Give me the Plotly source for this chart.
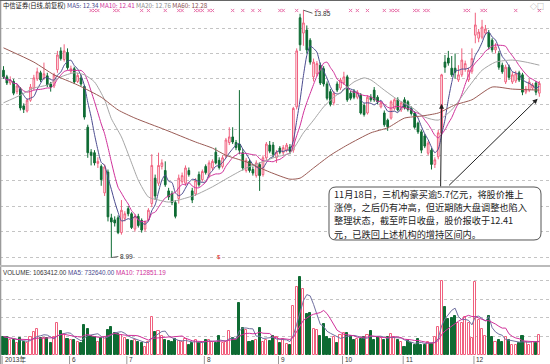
import numpy as np
import pandas as pd
import plotly.graph_objects as go

W, H = 550, 364

# ---------------- data ----------------
holidays = ['2013-06-10', '2013-06-11', '2013-06-12', '2013-09-19', '2013-09-20',
            '2013-10-01', '2013-10-02', '2013-10-03', '2013-10-04', '2013-10-07']
days = pd.bdate_range('2013-05-06', '2013-12-27')
days = days[~days.isin(pd.to_datetime(holidays))]

opens = [12.67, 12.54, 12.42, 12.45, 12.25, 12.30, 11.97, 11.87, 12.08, 12.32,
         12.50, 12.62, 12.52, 12.56, 12.40, 12.36, 12.68, 13.05, 12.88, 13.02,
         12.65, 12.70, 12.45, 12.52, 12.35, 11.55, 11.06, 11.05, 10.84, 10.78,
         10.26, 10.67, 9.77, 9.73, 9.77, 9.48, 9.76,
         9.95, 9.85, 9.55, 9.80, 9.72, 9.55, 9.73, 10.05, 10.55, 10.45,
         10.78, 10.70, 10.30, 10.25, 10.07, 10.15, 10.48, 10.45, 10.70, 10.30,
         10.24, 10.62, 10.52,
         10.78, 10.60, 10.75, 11.06, 10.90, 10.78, 10.98, 11.25, 11.36, 11.25,
         11.22, 11.05, 10.70, 10.88, 10.72, 10.60, 10.82, 10.62, 10.95, 11.20,
         11.20, 10.95,
         11.14, 11.05, 11.10, 11.16, 11.10, 11.95, 13.70, 13.40, 13.46, 13.26,
         12.54, 12.60, 12.77, 12.70, 12.40, 12.25, 12.03, 12.40, 12.32,
         12.42, 12.54, 12.22, 12.25, 12.14, 12.18, 11.98, 11.83, 12.14, 12.28,
         12.14, 11.95, 11.83, 11.69, 11.73, 11.92, 12.09, 11.89,
         12.09, 12.05, 11.92, 11.83, 11.63, 11.46, 11.38, 11.04, 11.10, 10.82,
         10.97, 11.44, 12.83, 12.91, 12.71, 12.71, 12.48, 12.58, 12.70, 12.48,
         12.65,
         13.36, 13.30, 13.32, 13.40, 13.40, 13.26, 13.07, 13.00, 12.77, 12.44,
         12.73, 12.44, 12.46, 12.62, 12.58, 12.24, 12.28, 12.32, 12.42, 12.22]

highs = [12.75, 12.58, 12.55, 12.50, 12.40, 12.34, 12.02, 12.12, 12.40, 12.58,
         12.72, 12.66, 12.82, 12.62, 12.44, 12.62, 13.05, 13.12, 13.18, 13.10,
         12.76, 12.74, 12.62, 12.58, 12.38, 11.60, 11.12, 11.10, 10.96, 10.82,
         10.82, 10.72, 9.85, 9.80, 9.82, 10.12, 9.90,
         10.00, 9.88, 9.84, 9.85, 9.76, 9.72, 9.96, 11.02, 10.62, 11.05,
         10.92, 10.88, 10.36, 10.30, 10.12, 10.62, 10.66, 10.80, 10.76, 10.36,
         10.55, 10.68, 10.72,
         10.82, 10.90, 10.92, 11.15, 10.96, 11.00, 11.34, 11.55, 11.55, 11.30,
         12.28, 11.12, 10.95, 10.92, 10.78, 10.90, 10.86, 11.00, 11.26, 11.28,
         11.26, 11.10,
         11.18, 11.20, 11.24, 11.22, 11.95, 13.10, 13.78, 13.85, 13.55, 13.30,
         12.90, 12.85, 12.82, 12.75, 12.45, 12.30, 12.26, 12.45, 12.52,
         12.64, 12.58, 12.26, 12.30, 12.28, 12.22, 12.02, 12.18, 12.20, 12.34,
         12.18, 12.06, 11.88, 11.72, 12.08, 12.12, 12.14, 12.06,
         12.14, 12.08, 11.96, 11.86, 11.66, 11.50, 11.42, 11.28, 11.14, 10.96,
         11.50, 12.60, 12.97, 13.05, 12.95, 13.00, 12.77, 13.10, 12.86, 12.72,
         13.10,
         13.80, 13.48, 13.66, 13.56, 13.46, 13.30, 13.20, 13.05, 12.82, 12.78,
         12.78, 12.64, 12.66, 12.66, 12.62, 12.36, 12.50, 12.42, 12.46, 12.46]

lows = [12.50, 12.38, 12.38, 12.18, 12.20, 11.88, 11.83, 11.84, 12.05, 12.28,
        12.46, 12.44, 12.48, 12.34, 12.25, 12.32, 12.62, 12.86, 12.84, 12.68,
        12.60, 12.40, 12.42, 12.36, 11.70, 10.95, 10.80, 10.80, 10.75, 10.40,
        10.20, 9.70, 8.99, 9.60, 9.45, 9.44, 9.70,
        9.80, 9.55, 9.50, 9.58, 9.48, 9.50, 9.70, 9.98, 10.12, 10.40,
        10.72, 10.38, 10.12, 10.02, 9.76, 10.05, 10.44, 10.40, 10.58, 10.06,
        10.20, 10.38, 10.48,
        10.62, 10.56, 10.70, 10.82, 10.72, 10.74, 10.94, 11.20, 11.22, 11.10,
        11.02, 10.70, 10.66, 10.66, 10.60, 10.56, 10.30, 10.58, 10.90, 11.04,
        10.96, 10.85,
        11.02, 11.00, 11.06, 11.02, 11.05, 11.90, 13.05, 13.15, 13.00, 12.78,
        12.45, 12.55, 12.38, 12.35, 12.08, 11.96, 11.98, 12.24, 12.28,
        12.38, 12.05, 12.08, 12.10, 12.10, 11.80, 11.76, 11.80, 12.05, 12.05,
        12.00, 11.92, 11.56, 11.48, 11.70, 11.88, 11.86, 11.85,
        11.90, 11.86, 11.78, 11.52, 11.42, 11.04, 11.14, 11.00, 10.72, 10.75,
        10.92, 11.40, 12.62, 12.76, 12.54, 12.50, 12.44, 12.54, 12.64, 12.44,
        12.60,
        13.20, 13.22, 13.28, 13.36, 13.08, 13.02, 13.00, 12.68, 12.60, 12.40,
        12.48, 12.40, 12.42, 12.44, 12.18, 12.20, 12.24, 12.28, 12.18, 12.15]

closes = [12.54, 12.42, 12.48, 12.22, 12.36, 11.93, 11.90, 12.08, 12.34, 12.52,
          12.64, 12.48, 12.60, 12.38, 12.34, 12.58, 12.97, 12.90, 13.05, 12.72,
          12.70, 12.44, 12.57, 12.40, 11.75, 11.05, 11.00, 10.85, 10.88, 10.52,
          10.77, 9.79, 9.69, 9.67, 9.48, 9.92, 9.85,
          9.85, 9.58, 9.80, 9.62, 9.53, 9.68, 9.92, 10.80, 10.20, 10.80,
          10.85, 10.42, 10.18, 10.07, 9.80, 10.55, 10.60, 10.75, 10.62, 10.12,
          10.50, 10.42, 10.68,
          10.66, 10.85, 10.88, 10.85, 10.76, 10.95, 11.30, 11.36, 11.26, 11.15,
          11.10, 10.75, 10.90, 10.70, 10.65, 10.85, 10.60, 10.95, 11.22, 11.08,
          11.02, 11.06,
          11.06, 11.15, 11.20, 11.08, 11.92, 13.05, 13.17, 13.60, 13.07, 12.83,
          12.83, 12.80, 12.42, 12.40, 12.12, 12.00, 12.22, 12.28, 12.48,
          12.54, 12.09, 12.12, 12.14, 12.24, 11.83, 11.80, 12.14, 12.09, 12.09,
          12.05, 12.03, 11.60, 11.56, 12.05, 12.09, 11.89, 12.03,
          11.93, 11.90, 11.82, 11.55, 11.46, 11.10, 11.18, 11.24, 10.82, 10.91,
          11.44, 12.58, 12.73, 12.81, 12.58, 12.63, 12.58, 12.87, 12.80, 12.67,
          12.90,
          13.56, 13.42, 13.52, 13.48, 13.13, 13.07, 13.13, 12.73, 12.64, 12.73,
          12.53, 12.58, 12.60, 12.48, 12.24, 12.30, 12.44, 12.38, 12.24, 12.41]

volume_m = [0.99, 0.95, 0.80, 0.80, 0.63, 0.90, 0.72, 0.63, 0.99, 1.25,
            1.38, 0.92, 0.90, 0.90, 0.65, 0.95, 1.74, 1.31, 1.13, 0.85,
            0.81, 0.81, 0.72, 0.63, 1.61, 1.42, 1.02, 0.95, 0.72, 0.90,
            0.95, 1.34, 1.52, 1.20, 1.13, 1.08, 0.90,
            0.81, 0.76, 0.81, 0.72, 0.63, 0.45, 0.72, 2.03, 1.25, 1.31,
            1.02, 0.81, 0.76, 0.72, 0.85, 0.76, 0.72, 0.85, 0.54, 0.63,
            0.81, 0.63, 0.72,
            0.81, 0.81, 0.72, 0.67, 1.02, 0.63, 0.72, 1.31, 0.90, 0.81,
            2.78, 1.43, 1.34, 0.72, 0.76, 0.81, 1.43, 0.72, 0.81, 0.76,
            1.02, 0.99,
            0.63, 0.84, 0.59, 0.55, 2.63, 3.67, 4.21, 3.53, 2.20, 2.28,
            1.40, 1.34, 1.02, 1.67, 0.95, 0.86, 0.95, 0.63, 1.08,
            1.20, 1.17, 1.02, 0.81, 0.85, 0.86, 0.95, 1.08, 1.31, 0.81,
            0.95, 0.90, 0.81, 0.95, 1.13, 0.95, 0.81, 0.72,
            0.45, 0.81, 0.63, 0.54, 0.84, 0.54, 0.54, 0.72, 0.59, 0.99,
            1.52, 4.00, 2.60, 1.92, 1.97, 2.10, 1.74, 1.74, 2.03, 1.70,
            0.90,
            3.94, 1.88, 1.40, 1.02, 2.10, 0.95, 0.72, 0.81, 0.72, 0.95,
            0.81, 0.54, 0.54, 0.63, 1.02, 0.72, 0.52, 0.70, 0.66, 1.063412]

# MA20 / MA60 (trading-day index, value)
ma20_idx = [0, 5, 9, 13, 17, 21, 24, 27, 30, 32, 35, 38, 40, 43, 46, 49, 52, 57, 62, 67,
            72, 76, 81, 85, 89, 92, 95, 98, 101, 104, 107, 109, 113, 117, 121, 125, 129,
            133, 138, 142, 146, 151, 155, 159]
ma20_val = [12.03, 12.18, 12.32, 12.38, 12.54, 12.62, 12.58, 12.44, 12.09, 11.72, 11.36,
            10.85, 10.51, 10.18, 10.12, 10.08, 10.12, 10.22, 10.38, 10.57, 10.75, 10.85,
            10.97, 11.04, 11.44, 11.69, 11.95, 12.14, 12.28, 12.44, 12.52, 12.48, 12.28,
            12.09, 11.95, 11.75, 11.69, 11.89, 12.34, 12.67, 12.83, 12.87, 12.83, 12.77]
ma60_idx = [0, 9, 15, 22, 29, 34, 39, 48, 57, 62, 66, 72, 79, 85, 88, 92, 97, 102, 109,
            114, 119, 124, 129, 134, 139, 145, 151, 159]
ma60_val = [13.11, 12.83, 12.58, 12.38, 12.14, 11.89, 11.73, 11.50, 11.26, 11.14, 11.00,
            10.87, 10.67, 10.53, 10.55, 10.75, 11.00, 11.20, 11.44, 11.54, 11.73, 11.77,
            11.83, 11.99, 12.09, 12.34, 12.30, 12.28]

signal_dates = ['2013-06-14', '2013-06-17', '2013-06-18', '2013-06-25', '2013-06-26',
                '2013-07-05', '2013-07-09', '2013-07-16', '2013-07-22', '2013-07-23',
                '2013-07-29', '2013-07-30', '2013-07-31', '2013-08-02', '2013-08-05',
                '2013-08-13', '2013-08-16', '2013-08-21', '2013-08-23', '2013-09-02',
                '2013-09-03', '2013-09-09', '2013-09-17', '2013-09-24', '2013-10-10',
                '2013-10-14', '2013-10-17', '2013-10-24', '2013-10-28', '2013-10-29',
                '2013-10-30', '2013-11-06', '2013-11-07', '2013-11-11', '2013-11-12',
                '2013-11-27', '2013-11-28', '2013-12-04', '2013-12-05', '2013-12-18',
                '2013-12-27']
exdiv_date = '2013-08-07'
event_date = '2013-11-18'

month_labels = ['2013年', '6', '7', '8', '9', '10', '11', '12']
title_parts = [('中信证券(日线,前复权)', '#111111'), ('MA5: 12.34', '#4B4B8F'),
               ('MA10: 12.41', '#D0309A'), ('MA20: 12.76', '#8C8C8C'), ('MA60: 12.28', '#8A5050')]
vol_parts = [('VOLUME: 1063412.00', '#333333'), ('MA5: 732640.00', '#4B4B8F'),
             ('MA10: 712851.19', '#D0309A')]
note_lines = ['11月18日，三机构豪买逾5.7亿元，将股价推上',
              '涨停，之后仍有冲高，但近期随大盘调整也陷入',
              '整理状态，截至昨日收盘，股价报收于12.41',
              '元，已跌回上述机构的增持区间内。']

# ---------------- derived ----------------
x = np.arange(len(days))
o = np.array(opens); h = np.array(highs); l = np.array(lows); c = np.array(closes)
v = np.array(volume_m)
cs = pd.Series(c)
ma5 = cs.rolling(5, min_periods=1).mean()
ma10 = cs.rolling(10, min_periods=1).mean()
vs = pd.Series(v)
vma5 = vs.rolling(5, min_periods=1).mean()
vma10 = vs.rolling(10, min_periods=1).mean()
up = c >= o
month = np.array(days.month)
month_starts = [0] + [i for i in range(1, len(month)) if month[i] != month[i - 1]]
pos = {d: i for i, d in enumerate(days.strftime('%Y-%m-%d'))}
signal_idx = [pos[d] for d in signal_dates]

UP = '#F0607E'
DN = '#0E6B33'
C_MA5 = '#4B4B8F'
C_MA10 = '#D0309A'
C_MA20 = '#A6A6A6'
C_MA60 = '#9A5B55'


def py(yp):
    return 1 - yp / H


def pxx(xp):
    return xp / W


X0 = -3.5 / 3.37
XR = [X0, (W - 3.5) / 3.37]
main_top_px, main_bot_px = 2, 264


def price_at(ypx):
    return 13.5 - (ypx - 28) / 50.9


vol_top_px, vol_bot_px = 266, 355

fig = go.Figure()

fig.add_trace(go.Candlestick(
    x=x, open=o, high=h, low=l, close=c,
    increasing=dict(line=dict(color=UP, width=1), fillcolor='white'),
    decreasing=dict(line=dict(color=DN, width=1), fillcolor=DN),
    whiskerwidth=0, hoverinfo='skip', xaxis='x', yaxis='y'))

for xs, ys, col in [(x, ma5, C_MA5), (x, ma10, C_MA10), (ma20_idx, ma20_val, C_MA20),
                    (ma60_idx, ma60_val, C_MA60)]:
    fig.add_trace(go.Scatter(x=xs, y=ys, mode='lines', line=dict(color=col, width=1, shape='spline',
                             smoothing=0.6), hoverinfo='skip', xaxis='x', yaxis='y'))

sig_y = price_at(10.5)
fig.add_trace(go.Scatter(x=signal_idx, y=[sig_y] * len(signal_idx), mode='markers',
                         marker=dict(symbol='x-thin', size=3.2, line=dict(color='#E872AA', width=1)),
                         hoverinfo='skip', xaxis='x', yaxis='y'))

fig.add_trace(go.Bar(x=x, y=v, width=0.62,
                     marker=dict(color=np.where(up, 'white', DN),
                                 line=dict(color=np.where(up, UP, DN), width=1)),
                     hoverinfo='skip', xaxis='x2', yaxis='y2'))
fig.add_trace(go.Scatter(x=x, y=vma5, mode='lines', line=dict(color='#7070A0', width=1),
                         hoverinfo='skip', xaxis='x2', yaxis='y2'))
fig.add_trace(go.Scatter(x=x, y=vma10, mode='lines', line=dict(color=C_MA10, width=1),
                         hoverinfo='skip', xaxis='x2', yaxis='y2'))

grid_main = [9.0 + 0.5 * k for k in range(10)]

fig.update_layout(
    width=W, height=H, margin=dict(l=0, r=0, t=0, b=0),
    paper_bgcolor='white', plot_bgcolor='white', showlegend=False, bargap=0,
    font=dict(family='Noto Sans CJK SC, Liberation Sans, sans-serif'),
    xaxis=dict(domain=[0, 1], range=XR, showticklabels=False, showgrid=False, zeroline=False,
               anchor='y', rangeslider=dict(visible=False), fixedrange=True),
    yaxis=dict(domain=[py(main_bot_px), py(main_top_px)],
               range=[price_at(main_bot_px), price_at(main_top_px)],
               tickvals=grid_main, showticklabels=False, showgrid=True, gridcolor='#C4C4C4',
               griddash='dot', gridwidth=1, zeroline=False),
    xaxis2=dict(domain=[0, 1], range=XR, anchor='y2', showticklabels=False,
                showgrid=False, zeroline=False, showline=False),
    yaxis2=dict(domain=[py(vol_bot_px), py(vol_top_px)],
                range=[0, (vol_bot_px - vol_top_px) / 18.6],
                tickvals=[1, 2, 3, 4], showticklabels=False, showgrid=True, gridcolor='#C4C4C4',
                griddash='dot', zeroline=False),
)

shapes = []
shapes.append(dict(type='line', xref='paper', yref='paper', x0=0.001, x1=0.001, y0=0, y1=1,
                   line=dict(color='#9A9A9A', width=1.5)))
shapes.append(dict(type='line', xref='paper', yref='paper', x0=0, x1=1, y0=0.999, y1=0.999,
                   line=dict(color='#666666', width=1.5)))
shapes.append(dict(type='line', xref='paper', yref='paper', x0=0, x1=1, y0=py(266), y1=py(266),
                   line=dict(color='#BBBBBB', width=2)))
for ms in month_starts:
    shapes.append(dict(type='line', xref='x2', yref='paper', x0=ms - 0.4, x1=ms - 0.4,
                       y0=py(356), y1=py(364), line=dict(color='#999999', width=1)))

bx0, bx1, by0, by1, r = 329, 541, 187, 240, 7


def pts(X, Y):
    return f"{pxx(X):.5f},{py(Y):.5f}"


path = (f"M {pts(bx0 + r, by0)} L {pts(bx1 - r, by0)} Q {pts(bx1, by0)} {pts(bx1, by0 + r)} "
        f"L {pts(bx1, by1 - r)} Q {pts(bx1, by1)} {pts(bx1 - r, by1)} "
        f"L {pts(bx0 + r, by1)} Q {pts(bx0, by1)} {pts(bx0, by1 - r)} "
        f"L {pts(bx0, by0 + r)} Q {pts(bx0, by0)} {pts(bx0 + r, by0)} Z")
shapes.append(dict(type='path', xref='paper', yref='paper', path=path,
                   line=dict(color='#555555', width=1), fillcolor='white'))
fig.update_layout(shapes=shapes)

ann = []
title_html = ' '.join(f'<span style="color:{col}">{t}</span>' for t, col in title_parts)
ann.append(dict(xref='paper', yref='paper', x=pxx(1), y=py(5.5), xanchor='left', yanchor='middle',
                text=title_html, showarrow=False, font=dict(size=6.3)))
vol_html = ' '.join(f'<span style="color:{col}">{t}</span>' for t, col in vol_parts)
ann.append(dict(xref='paper', yref='paper', x=pxx(1), y=py(272), xanchor='left', yanchor='middle',
                text=vol_html, showarrow=False, font=dict(size=6.3, family='Liberation Sans')))
ann.append(dict(xref='paper', yref='paper', x=pxx(546), y=py(6), xanchor='right', yanchor='middle',
                text='◇□', showarrow=False, font=dict(size=7, color='#888888')))

for ms, lab in zip(month_starts, month_labels):
    ann.append(dict(x=ms, xref='x2', y=py(359.5), yref='paper', xanchor='left', yanchor='middle',
                    text=lab, showarrow=False, xshift=-1,
                    font=dict(size=6.5, color='#333333', family='Liberation Sans, Noto Sans CJK SC')))

ih = int(np.argmax(h)); il = int(np.argmin(l))
ann.append(dict(x=ih, y=h[ih], xref='x', yref='y', text=f'{h[ih]:.2f}', showarrow=True,
                arrowhead=0, arrowwidth=0.8, arrowcolor='#333', ax=9, ay=3, xanchor='left',
                font=dict(size=6.5, color='#333', family='Liberation Sans')))
ann.append(dict(x=il, y=l[il], xref='x', yref='y', text=f'{l[il]:.2f}', showarrow=True,
                arrowhead=0, arrowwidth=0.8, arrowcolor='#333', ax=7, ay=-1, xanchor='left',
                font=dict(size=6.5, color='#333', family='Liberation Sans')))
ie = pos[exdiv_date]
ann.append(dict(x=ie, y=py(262), xref='x', yref='paper', text='$', showarrow=False,
                font=dict(size=6, color='#E02020', family='Liberation Sans')))

iev = pos[event_date]
ilast = len(c) - 1
ann.append(dict(x=iev, y=(o[iev] + c[iev]) / 2, xref='x', yref='y', text='', showarrow=True,
                arrowhead=2, arrowsize=1, arrowwidth=1, arrowcolor='#222', ax=-1, ay=84))
ann.append(dict(x=ilast - 0.5, y=l[ilast] - 0.04, xref='x', yref='y', text='', showarrow=True,
                arrowhead=2, arrowsize=1, arrowwidth=1, arrowcolor='#222', ax=-90, ay=88))
for k, line in enumerate(note_lines):
    ann.append(dict(xref='paper', yref='paper', x=pxx(332), y=py(194 + 13.2 * k), xanchor='left',
                    yanchor='middle', align='left', text=line, showarrow=False,
                    font=dict(size=9.2, color='#222222', family='Noto Sans CJK SC')))
fig.update_layout(annotations=ann)

fig.write_html('out.html', config={'displayModeBar': False},
               post_script="document.body.style.margin='0';document.body.style.padding='0';"
                           "document.body.style.overflow='hidden';")
